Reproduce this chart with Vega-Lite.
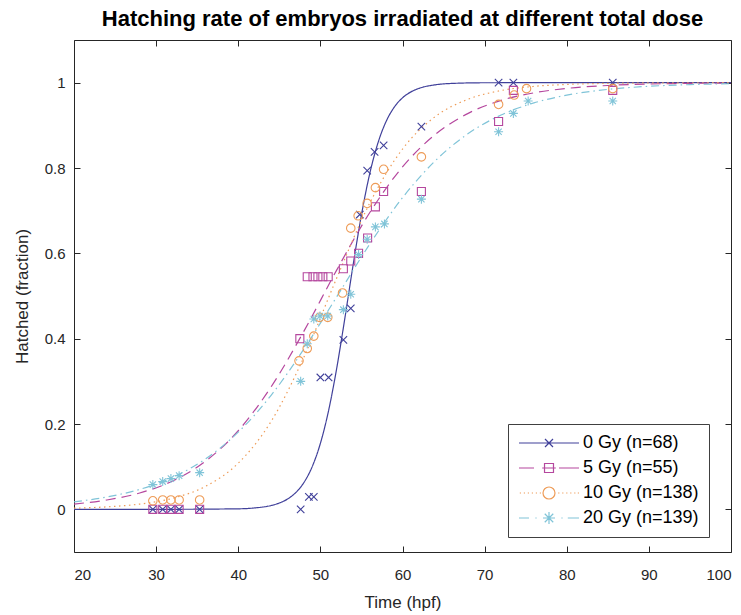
{
  "$schema": "https://vega.github.io/schema/vega-lite/v6.json",
  "width": 657,
  "height": 512,
  "autosize": "none",
  "padding": {"left": 74, "top": 40, "right": 10, "bottom": 63},
  "background": "white",
  "title": {"text": "Hatching rate of embryos irradiated at different total dose", "fontSize": 22, "fontWeight": "bold", "color": "#000000", "font": "Liberation Sans", "anchor": "middle", "offset": 9},
  "datasets": {
    "pts": [
      {"series": "0 Gy (n=68)", "x": 29.6, "y": 0}, {"series": "0 Gy (n=68)", "x": 30.8, "y": 0}, {"series": "0 Gy (n=68)", "x": 31.8, "y": 0}, {"series": "0 Gy (n=68)", "x": 32.8, "y": 0}, {"series": "0 Gy (n=68)", "x": 35.3, "y": 0},
      {"series": "0 Gy (n=68)", "x": 47.6, "y": 0}, {"series": "0 Gy (n=68)", "x": 48.6, "y": 0.029}, {"series": "0 Gy (n=68)", "x": 49.2, "y": 0.029}, {"series": "0 Gy (n=68)", "x": 50.0, "y": 0.309}, {"series": "0 Gy (n=68)", "x": 51.0, "y": 0.309},
      {"series": "0 Gy (n=68)", "x": 52.8, "y": 0.397}, {"series": "0 Gy (n=68)", "x": 53.7, "y": 0.471}, {"series": "0 Gy (n=68)", "x": 54.8, "y": 0.691}, {"series": "0 Gy (n=68)", "x": 55.7, "y": 0.794}, {"series": "0 Gy (n=68)", "x": 56.6, "y": 0.838},
      {"series": "0 Gy (n=68)", "x": 57.7, "y": 0.853}, {"series": "0 Gy (n=68)", "x": 62.3, "y": 0.897}, {"series": "0 Gy (n=68)", "x": 71.7, "y": 1}, {"series": "0 Gy (n=68)", "x": 73.5, "y": 1}, {"series": "0 Gy (n=68)", "x": 85.6, "y": 1},
      {"series": "5 Gy (n=55)", "x": 29.6, "y": 0}, {"series": "5 Gy (n=55)", "x": 30.8, "y": 0}, {"series": "5 Gy (n=55)", "x": 31.8, "y": 0}, {"series": "5 Gy (n=55)", "x": 32.8, "y": 0}, {"series": "5 Gy (n=55)", "x": 35.3, "y": 0},
      {"series": "5 Gy (n=55)", "x": 47.5, "y": 0.4}, {"series": "5 Gy (n=55)", "x": 48.4, "y": 0.545}, {"series": "5 Gy (n=55)", "x": 49.1, "y": 0.545}, {"series": "5 Gy (n=55)", "x": 49.7, "y": 0.545}, {"series": "5 Gy (n=55)", "x": 50.3, "y": 0.545},
      {"series": "5 Gy (n=55)", "x": 50.95, "y": 0.545}, {"series": "5 Gy (n=55)", "x": 52.8, "y": 0.564}, {"series": "5 Gy (n=55)", "x": 53.7, "y": 0.582}, {"series": "5 Gy (n=55)", "x": 54.65, "y": 0.6}, {"series": "5 Gy (n=55)", "x": 55.75, "y": 0.636},
      {"series": "5 Gy (n=55)", "x": 56.7, "y": 0.709}, {"series": "5 Gy (n=55)", "x": 57.7, "y": 0.745}, {"series": "5 Gy (n=55)", "x": 62.3, "y": 0.745}, {"series": "5 Gy (n=55)", "x": 71.7, "y": 0.909}, {"series": "5 Gy (n=55)", "x": 73.5, "y": 0.982}, {"series": "5 Gy (n=55)", "x": 85.6, "y": 0.982},
      {"series": "10 Gy (n=138)", "x": 29.6, "y": 0.02}, {"series": "10 Gy (n=138)", "x": 30.8, "y": 0.022}, {"series": "10 Gy (n=138)", "x": 31.8, "y": 0.022}, {"series": "10 Gy (n=138)", "x": 32.8, "y": 0.022}, {"series": "10 Gy (n=138)", "x": 35.3, "y": 0.022},
      {"series": "10 Gy (n=138)", "x": 47.4, "y": 0.348}, {"series": "10 Gy (n=138)", "x": 48.4, "y": 0.377}, {"series": "10 Gy (n=138)", "x": 49.2, "y": 0.406}, {"series": "10 Gy (n=138)", "x": 49.9, "y": 0.45}, {"series": "10 Gy (n=138)", "x": 50.9, "y": 0.45},
      {"series": "10 Gy (n=138)", "x": 52.7, "y": 0.507}, {"series": "10 Gy (n=138)", "x": 53.7, "y": 0.659}, {"series": "10 Gy (n=138)", "x": 54.6, "y": 0.688}, {"series": "10 Gy (n=138)", "x": 55.7, "y": 0.717}, {"series": "10 Gy (n=138)", "x": 56.7, "y": 0.754},
      {"series": "10 Gy (n=138)", "x": 57.7, "y": 0.797}, {"series": "10 Gy (n=138)", "x": 62.3, "y": 0.826}, {"series": "10 Gy (n=138)", "x": 71.7, "y": 0.949}, {"series": "10 Gy (n=138)", "x": 73.6, "y": 0.971}, {"series": "10 Gy (n=138)", "x": 75.1, "y": 0.986}, {"series": "10 Gy (n=138)", "x": 85.6, "y": 0.986},
      {"series": "20 Gy (n=139)", "x": 29.6, "y": 0.058}, {"series": "20 Gy (n=139)", "x": 30.8, "y": 0.065}, {"series": "20 Gy (n=139)", "x": 31.8, "y": 0.072}, {"series": "20 Gy (n=139)", "x": 32.8, "y": 0.079}, {"series": "20 Gy (n=139)", "x": 35.3, "y": 0.086},
      {"series": "20 Gy (n=139)", "x": 47.6, "y": 0.3}, {"series": "20 Gy (n=139)", "x": 48.4, "y": 0.388}, {"series": "20 Gy (n=139)", "x": 49.2, "y": 0.446}, {"series": "20 Gy (n=139)", "x": 49.95, "y": 0.453}, {"series": "20 Gy (n=139)", "x": 50.9, "y": 0.453},
      {"series": "20 Gy (n=139)", "x": 52.8, "y": 0.468}, {"series": "20 Gy (n=139)", "x": 53.7, "y": 0.504}, {"series": "20 Gy (n=139)", "x": 54.65, "y": 0.597}, {"series": "20 Gy (n=139)", "x": 55.7, "y": 0.633}, {"series": "20 Gy (n=139)", "x": 56.7, "y": 0.662},
      {"series": "20 Gy (n=139)", "x": 57.8, "y": 0.669}, {"series": "20 Gy (n=139)", "x": 62.3, "y": 0.727}, {"series": "20 Gy (n=139)", "x": 71.7, "y": 0.885}, {"series": "20 Gy (n=139)", "x": 73.5, "y": 0.928}, {"series": "20 Gy (n=139)", "x": 75.3, "y": 0.957}, {"series": "20 Gy (n=139)", "x": 85.6, "y": 0.957}
    ],
    "fit": [
      {"series": "0 Gy (n=68)", "x": 20, "y": 0}, {"series": "0 Gy (n=68)", "x": 30, "y": 0.00001}, {"series": "0 Gy (n=68)", "x": 40, "y": 0.0012}, {"series": "0 Gy (n=68)", "x": 42, "y": 0.0033}, {"series": "0 Gy (n=68)", "x": 44, "y": 0.009},
      {"series": "0 Gy (n=68)", "x": 45, "y": 0.0148}, {"series": "0 Gy (n=68)", "x": 46, "y": 0.0241}, {"series": "0 Gy (n=68)", "x": 47, "y": 0.0392}, {"series": "0 Gy (n=68)", "x": 48, "y": 0.063}, {"series": "0 Gy (n=68)", "x": 49, "y": 0.0998},
      {"series": "0 Gy (n=68)", "x": 50, "y": 0.1545}, {"series": "0 Gy (n=68)", "x": 51, "y": 0.2315}, {"series": "0 Gy (n=68)", "x": 52, "y": 0.3318}, {"series": "0 Gy (n=68)", "x": 53, "y": 0.4502}, {"series": "0 Gy (n=68)", "x": 54, "y": 0.5744},
      {"series": "0 Gy (n=68)", "x": 55, "y": 0.69}, {"series": "0 Gy (n=68)", "x": 56, "y": 0.7858}, {"series": "0 Gy (n=68)", "x": 57, "y": 0.8581}, {"series": "0 Gy (n=68)", "x": 58, "y": 0.9089}, {"series": "0 Gy (n=68)", "x": 59, "y": 0.9427},
      {"series": "0 Gy (n=68)", "x": 60, "y": 0.9644}, {"series": "0 Gy (n=68)", "x": 61, "y": 0.9781}, {"series": "0 Gy (n=68)", "x": 62, "y": 0.9866}, {"series": "0 Gy (n=68)", "x": 64, "y": 0.995}, {"series": "0 Gy (n=68)", "x": 66, "y": 0.9982},
      {"series": "0 Gy (n=68)", "x": 70, "y": 0.9998}, {"series": "0 Gy (n=68)", "x": 80, "y": 1}, {"series": "0 Gy (n=68)", "x": 100, "y": 1},
      {"series": "5 Gy (n=55)", "x": 20, "y": 0.0124}, {"series": "5 Gy (n=55)", "x": 24, "y": 0.0219}, {"series": "5 Gy (n=55)", "x": 28, "y": 0.0383}, {"series": "5 Gy (n=55)", "x": 32, "y": 0.0664}, {"series": "5 Gy (n=55)", "x": 36, "y": 0.1125},
      {"series": "5 Gy (n=55)", "x": 40, "y": 0.1842}, {"series": "5 Gy (n=55)", "x": 44, "y": 0.287}, {"series": "5 Gy (n=55)", "x": 48, "y": 0.4177}, {"series": "5 Gy (n=55)", "x": 52, "y": 0.5612}, {"series": "5 Gy (n=55)", "x": 56, "y": 0.6951},
      {"series": "5 Gy (n=55)", "x": 60, "y": 0.8025}, {"series": "5 Gy (n=55)", "x": 64, "y": 0.8787}, {"series": "5 Gy (n=55)", "x": 68, "y": 0.9281}, {"series": "5 Gy (n=55)", "x": 72, "y": 0.9584}, {"series": "5 Gy (n=55)", "x": 76, "y": 0.9762},
      {"series": "5 Gy (n=55)", "x": 80, "y": 0.9865}, {"series": "5 Gy (n=55)", "x": 85, "y": 0.9934}, {"series": "5 Gy (n=55)", "x": 90, "y": 0.9968}, {"series": "5 Gy (n=55)", "x": 95, "y": 0.9984}, {"series": "5 Gy (n=55)", "x": 100, "y": 0.9992},
      {"series": "10 Gy (n=138)", "x": 20, "y": 0.0027}, {"series": "10 Gy (n=138)", "x": 24, "y": 0.0058}, {"series": "10 Gy (n=138)", "x": 28, "y": 0.0123}, {"series": "10 Gy (n=138)", "x": 32, "y": 0.0259}, {"series": "10 Gy (n=138)", "x": 36, "y": 0.0537},
      {"series": "10 Gy (n=138)", "x": 40, "y": 0.1082}, {"series": "10 Gy (n=138)", "x": 44, "y": 0.206}, {"series": "10 Gy (n=138)", "x": 48, "y": 0.3569}, {"series": "10 Gy (n=138)", "x": 52, "y": 0.5426}, {"series": "10 Gy (n=138)", "x": 56, "y": 0.7173},
      {"series": "10 Gy (n=138)", "x": 60, "y": 0.8444}, {"series": "10 Gy (n=138)", "x": 64, "y": 0.9207}, {"series": "10 Gy (n=138)", "x": 68, "y": 0.9613}, {"series": "10 Gy (n=138)", "x": 72, "y": 0.9815}, {"series": "10 Gy (n=138)", "x": 76, "y": 0.9913},
      {"series": "10 Gy (n=138)", "x": 80, "y": 0.9959}, {"series": "10 Gy (n=138)", "x": 85, "y": 0.9984}, {"series": "10 Gy (n=138)", "x": 90, "y": 0.9994}, {"series": "10 Gy (n=138)", "x": 95, "y": 0.9998}, {"series": "10 Gy (n=138)", "x": 100, "y": 0.9999},
      {"series": "20 Gy (n=139)", "x": 20, "y": 0.0177}, {"series": "20 Gy (n=139)", "x": 24, "y": 0.0289}, {"series": "20 Gy (n=139)", "x": 28, "y": 0.0468}, {"series": "20 Gy (n=139)", "x": 32, "y": 0.075}, {"series": "20 Gy (n=139)", "x": 36, "y": 0.118},
      {"series": "20 Gy (n=139)", "x": 40, "y": 0.1809}, {"series": "20 Gy (n=139)", "x": 44, "y": 0.2672}, {"series": "20 Gy (n=139)", "x": 48, "y": 0.3758}, {"series": "20 Gy (n=139)", "x": 52, "y": 0.4985}, {"series": "20 Gy (n=139)", "x": 56, "y": 0.6213},
      {"series": "20 Gy (n=139)", "x": 60, "y": 0.7303}, {"series": "20 Gy (n=139)", "x": 64, "y": 0.8171}, {"series": "20 Gy (n=139)", "x": 68, "y": 0.8807}, {"series": "20 Gy (n=139)", "x": 72, "y": 0.9241}, {"series": "20 Gy (n=139)", "x": 76, "y": 0.9526},
      {"series": "20 Gy (n=139)", "x": 80, "y": 0.9707}, {"series": "20 Gy (n=139)", "x": 85, "y": 0.9842}, {"series": "20 Gy (n=139)", "x": 90, "y": 0.9915}, {"series": "20 Gy (n=139)", "x": 95, "y": 0.9954}, {"series": "20 Gy (n=139)", "x": 100, "y": 0.9975}
    ],
    "leg": [
      {"series": "0 Gy (n=68)", "x": 60, "y": 0.5}, {"series": "5 Gy (n=55)", "x": 60, "y": 0.5}, {"series": "10 Gy (n=138)", "x": 60, "y": 0.5}, {"series": "20 Gy (n=139)", "x": 60, "y": 0.5}
    ]
  },
  "resolve": {"axis": {"x": "independent", "y": "independent"}, "scale": {"shape": "independent", "color": "independent"}},
  "layer": [
    {
      "data": {"name": "fit"},
      "mark": {"type": "line", "strokeWidth": 1.2, "interpolate": "monotone", "clip": true},
      "encoding": {
        "x": {"field": "x", "type": "quantitative", "scale": {"domain": [20, 100], "nice": false, "zero": false},
              "axis": {"orient": "bottom", "values": [20, 30, 40, 50, 60, 70, 80, 90, 100], "title": "Time (hpf)", "labelPadding": 21, "titlePadding": 12}},
        "y": {"field": "y", "type": "quantitative", "scale": {"domain": [-0.1, 1.1], "nice": false, "zero": false},
              "axis": {"orient": "left", "values": [0, 0.2, 0.4, 0.6, 0.8, 1], "labelExpr": "'' + datum.value", "title": "Hatched (fraction)", "labelPadding": 15, "titlePadding": 13}},
        "color": {"field": "series", "type": "nominal", "legend": null,
                  "scale": {"domain": ["0 Gy (n=68)", "5 Gy (n=55)", "10 Gy (n=138)", "20 Gy (n=139)"], "range": ["#40409a", "#b5479e", "#ee9c58", "#80c4d8"]}},
        "strokeDash": {"field": "series", "type": "nominal", "legend": null,
                  "scale": {"domain": ["0 Gy (n=68)", "5 Gy (n=55)", "10 Gy (n=138)", "20 Gy (n=139)"], "range": [[1, 0], [10, 6], [1.5, 3.5], [8, 4, 1.5, 4]]}}
      }
    },
    {
      "data": {"name": "pts"},
      "mark": {"type": "point", "filled": false, "strokeWidth": 1.1, "opacity": 1},
      "encoding": {
        "x": {"field": "x", "type": "quantitative", "axis": {"orient": "top", "values": [20, 30, 40, 50, 60, 70, 80, 90, 100], "labels": false, "title": null}},
        "y": {"field": "y", "type": "quantitative", "axis": {"orient": "right", "values": [0, 0.2, 0.4, 0.6, 0.8, 1], "labels": false, "title": null}},
        "color": {"field": "series", "type": "nominal", "legend": null,
                  "scale": {"domain": ["0 Gy (n=68)", "5 Gy (n=55)", "10 Gy (n=138)", "20 Gy (n=139)"], "range": ["#40409a", "#b5479e", "#ee9c58", "#80c4d8"]}},
        "shape": {"field": "series", "type": "nominal", "legend": null,
                  "scale": {"domain": ["0 Gy (n=68)", "5 Gy (n=55)", "10 Gy (n=138)", "20 Gy (n=139)"], "range": ["M-1,-1L1,1M-1,1L1,-1", "square", "circle", "M0,-1V1M-1,0H1M-0.7,-0.7L0.7,0.7M-0.7,0.7L0.7,-0.7"]}},
        "size": {"field": "series", "type": "nominal", "legend": null,
                  "scale": {"domain": ["0 Gy (n=68)", "5 Gy (n=55)", "10 Gy (n=138)", "20 Gy (n=139)"], "range": [56, 81, 150, 150]}}
      }
    },
    {
      "data": {"name": "leg"},
      "mark": {"type": "point", "filled": false, "strokeWidth": 1.2, "opacity": 0},
      "encoding": {
        "x": {"field": "x", "type": "quantitative", "axis": null},
        "y": {"field": "y", "type": "quantitative", "axis": null},
        "color": {"field": "series", "type": "nominal", "legend": {"title": null},
                  "scale": {"domain": ["0 Gy (n=68)", "5 Gy (n=55)", "10 Gy (n=138)", "20 Gy (n=139)"], "range": ["#40409a", "#b5479e", "#ee9c58", "#80c4d8"]}},
        "shape": {"field": "series", "type": "nominal", "legend": {"title": null},
                  "scale": {"domain": ["0 Gy (n=68)", "5 Gy (n=55)", "10 Gy (n=138)", "20 Gy (n=139)"], "range": [
                    "M-1,0H6.5M2.25,-0.5L3.25,0.5M2.25,0.5L3.25,-0.5",
                    "M-1,0H0.875M1.9,0H3.6M4,0H6.5M2.19,-0.56H3.31V0.56H2.19Z",
                    "M-0.9,0h0.15M-0.4,0h0.15M0.1,0h0.15M0.6,0h0.15M1.1,0h0.15M1.6,0h0.15M3.9,0h0.15M4.4,0h0.15M4.9,0h0.15M5.4,0h0.15M5.9,0h0.15M6.35,0h0.15M2,0A0.75,0.75 0 1,0 3.5,0A0.75,0.75 0 1,0 2,0",
                    "M-1,0H0.25M1.05,0h0.15M4.3,0h0.15M5.1,0H6.5M2.75,-0.75V0.75M2,0H3.5M2.22,-0.53L3.28,0.53M2.22,0.53L3.28,-0.53"]}}
      }
    }
  ],
  "config": {
    "font": "Liberation Sans",
    "view": {"stroke": null},
    "axis": {"grid": false, "domainColor": "#262626", "tickColor": "#262626", "labelColor": "#262626", "titleColor": "#262626",
             "labelFontSize": 15, "titleFontSize": 17, "titleFontWeight": "normal", "tickSize": -6, "labelPadding": 14, "domainWidth": 1, "tickWidth": 1},
    "legend": {"orient": "none", "legendX": 434, "legendY": 384, "symbolSize": 256, "symbolStrokeWidth": 1.2, "symbolOpacity": 1,
               "labelFontSize": 18, "labelColor": "#000000", "labelOffset": 47, "padding": 10, "rowPadding": 7,
               "strokeColor": "#404040", "fillColor": "white", "symbolFillColor": "transparent"}
  }
}
